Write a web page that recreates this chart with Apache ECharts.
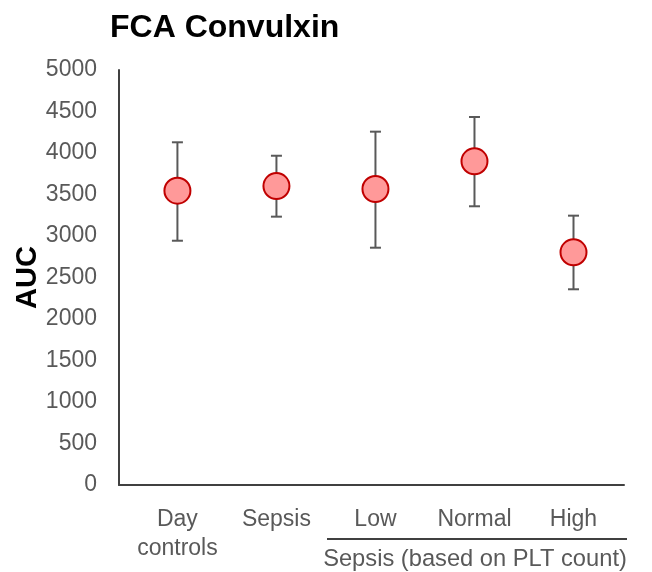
<!DOCTYPE html>
<html>
<head>
<meta charset="utf-8">
<script src="https://cdn.jsdelivr.net/npm/echarts@6/dist/echarts.min.js"></script>
<style>
  html, body { margin: 0; padding: 0; background: #fff; }
  #chart { width: 652px; height: 572px; }
</style>
</head>
<body>
<div id="chart"></div>
<script>
// Group names along the x axis
const categories = ['Day\ncontrols', 'Sepsis', 'Low', 'Normal', 'High'];
// Mean AUC per group and the ends of each error bar
const means = [3546, 3602, 3566, 3900, 2803];
const upper = [4129, 3967, 4257, 4434, 3245];
const lower = [2943, 3233, 2859, 3358, 2358];
// Value axis ticks
const yTicks = [0, 500, 1000, 1500, 2000, 2500, 3000, 3500, 4000, 4500, 5000];

const FONT = '"Liberation Sans", Arial, sans-serif';
const positions = categories.map((_, i) => i);

const chart = echarts.init(document.getElementById('chart'), null, { renderer: 'canvas' });

chart.setOption({
  backgroundColor: '#ffffff',
  animation: false,
  title: {
    text: 'FCA Convulxin',
    left: 105,
    top: 7,
    textStyle: { fontFamily: FONT, fontSize: 32, fontWeight: 'bold', color: '#000' }
  },
  grid: { left: 119, right: 28, top: 70, bottom: 87, containLabel: false, outerBoundsMode: 'none' },
  xAxis: {
    type: 'value',
    min: -0.59,
    max: 4.51,
    splitLine: { show: false },
    axisLine: { show: true, onZero: false, lineStyle: { color: '#404040', width: 2 } },
    axisTick: { show: false },
    axisLabel: {
      show: true,
      customValues: positions,
      formatter: v => categories[Math.round(v)],
      fontFamily: FONT,
      fontSize: 23,
      lineHeight: 29,
      color: '#595959',
      margin: 20,
      align: 'center'
    }
  },
  yAxis: {
    type: 'value',
    min: yTicks[0],
    max: yTicks[yTicks.length - 1],
    interval: yTicks[1] - yTicks[0],
    name: 'AUC',
    nameLocation: 'middle',
    nameRotate: 90,
    nameGap: 77,
    nameMoveOverlap: false,
    nameTextStyle: { fontFamily: FONT, fontSize: 29, fontWeight: 'bold', color: '#000' },
    splitLine: { show: false },
    axisLine: { show: true, onZero: false, lineStyle: { color: '#404040', width: 2 } },
    axisTick: { show: false },
    axisLabel: {
      formatter: v => String(v),
      fontFamily: FONT,
      fontSize: 23,
      color: '#595959',
      margin: 22
    }
  },
  series: [
    {
      // Error bars: vertical whisker with caps at both ends
      type: 'custom',
      data: positions.map(i => [i, lower[i], upper[i]]),
      renderItem: function (params, api) {
        const x = api.value(0);
        const lo = api.coord([x, api.value(1)]);
        const hi = api.coord([x, api.value(2)]);
        const half = 5.5;
        const style = { stroke: '#595959', lineWidth: 2 };
        return {
          type: 'group',
          children: [
            { type: 'line', shape: { x1: hi[0], y1: hi[1], x2: lo[0], y2: lo[1] }, style },
            { type: 'line', shape: { x1: hi[0] - half, y1: hi[1], x2: hi[0] + half, y2: hi[1] }, style },
            { type: 'line', shape: { x1: lo[0] - half, y1: lo[1], x2: lo[0] + half, y2: lo[1] }, style }
          ]
        };
      },
      z: 2
    },
    {
      type: 'scatter',
      data: positions.map(i => [i, means[i]]),
      symbol: 'circle',
      symbolSize: 26,
      itemStyle: { color: '#FF9999', borderColor: '#C00000', borderWidth: 2, opacity: 1 },
      z: 3
    }
  ],
  graphic: [
    {
      type: 'line',
      shape: { x1: 327, y1: 539, x2: 627, y2: 539 },
      style: { stroke: '#404040', lineWidth: 2 }
    },
    {
      type: 'text',
      x: 475,
      y: 559,
      style: {
        text: 'Sepsis (based on PLT count)',
        fontFamily: FONT,
        fontSize: 23.7,
        fill: '#595959',
        align: 'center',
        verticalAlign: 'middle'
      }
    }
  ]
});
</script>
</body>
</html>
